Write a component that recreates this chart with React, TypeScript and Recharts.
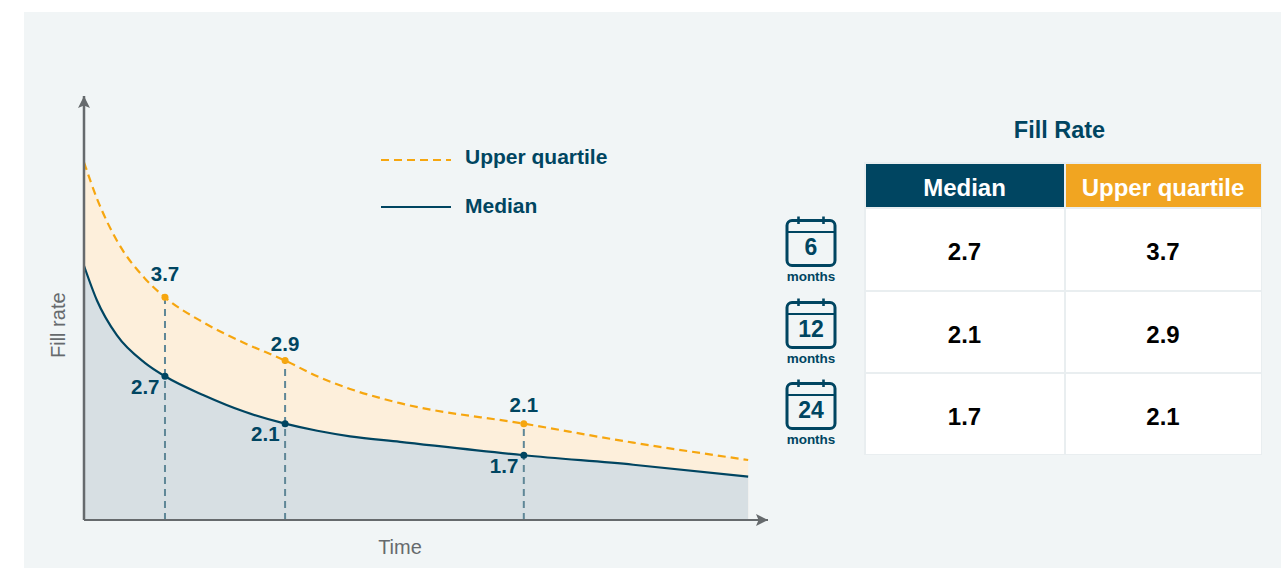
import {
  Area,
  AreaChart,
  Legend,
  ReferenceDot,
  ReferenceLine,
  XAxis,
  YAxis,
} from "recharts";

const NAVY = "#004561";
const AMBER = "#f6a60f";
const AXIS = "#666a6d";
const FONT = '"Liberation Sans", Arial, sans-serif';

// time runs 0-100 along the axis, the curves are schematic rather than in months
const time = [0, 1.9, 4.8, 8.9, 11.84, 17.5, 23.5, 29.4, 34.1, 38.9, 46.2, 64.3, 80.3, 97.1];
const upperQuartile = [5.41, 4.95, 4.42, 3.94, 3.7, 3.38, 3.12, 2.9, 2.7, 2.54, 2.36, 2.1, 1.86, 1.64];
const median = [4.1, 3.66, 3.22, 2.87, 2.7, 2.46, 2.25, 2.1, 2.01, 1.94, 1.87, 1.7, 1.58, 1.43];

const markedTimes = [11.84, 29.4, 64.3];
const markedUpper = [3.7, 2.9, 2.1];
const markedMedian = [2.7, 2.1, 1.7];
const periods = ["6", "12", "24"];

const Y_MIN = 0.88;
const Y_MAX = 6.25;

const chartData = time.map((t, i) => ({
  time: t,
  upper: upperQuartile[i],
  median: median[i],
}));

function CalendarIcon({ label }: { label: string }) {
  return (
    <svg width={52} height={52} viewBox="0 0 52 52" style={{ display: "block" }}>
      <rect x={2} y={4.5} width={48} height={45} rx={5} fill="none" stroke={NAVY} strokeWidth={3} />
      <line x1={2} x2={50} y1={16} y2={16} stroke={NAVY} strokeWidth={2} />
      <line x1={13.5} x2={13.5} y1={0.5} y2={8} stroke={NAVY} strokeWidth={2.6} />
      <line x1={38.5} x2={38.5} y1={0.5} y2={8} stroke={NAVY} strokeWidth={2.6} />
      <text x={26} y={38.5} textAnchor="middle" fontFamily={FONT} fontWeight={700} fontSize={23} fill={NAVY}>
        {label}
      </text>
    </svg>
  );
}

function renderLegend(props: any) {
  return (
    <div style={{ fontFamily: FONT }}>
      {props.payload.map((entry: any) => (
        <div key={entry.value} style={{ display: "flex", alignItems: "center", height: 49 }}>
          <svg
            width={84}
            height={4}
            style={{ display: "block", marginTop: entry.payload.strokeDasharray ? 6 : 2 }}
          >
            <line
              x1={0}
              x2={70}
              y1={2}
              y2={2}
              stroke={entry.color}
              strokeWidth={2.2}
              strokeDasharray={entry.payload.strokeDasharray}
            />
          </svg>
          <span style={{ fontSize: 21, fontWeight: 700, color: NAVY }}>{entry.value}</span>
        </div>
      ))}
    </div>
  );
}

function medianLabel(value: number) {
  return (p: any) => (
    <text
      x={p.viewBox.x - 2}
      y={p.viewBox.y + 21}
      textAnchor="end"
      fontFamily={FONT}
      fontWeight={700}
      fontSize={20.5}
      fill={NAVY}
    >
      {value}
    </text>
  );
}

// the gap above each upper dot differs so the text clears the dashed line
const upperLabelGaps = [13, 6, 8];

function upperLabel(value: number, gap: number) {
  return (p: any) => (
    <text
      x={p.viewBox.x + 3.5}
      y={p.viewBox.y - gap}
      textAnchor="middle"
      fontFamily={FONT}
      fontWeight={700}
      fontSize={20.5}
      fill={NAVY}
    >
      {value}
    </text>
  );
}

const headerCell = (background: string) => ({
  background,
  color: "#fff",
  fontSize: 24,
  fontWeight: 700,
  display: "flex",
  alignItems: "center",
  justifyContent: "center",
  paddingTop: 6,
  boxSizing: "border-box" as const,
});

const valueCell = {
  background: "#fff",
  color: "#000",
  fontSize: 24,
  fontWeight: 700,
  display: "flex",
  alignItems: "center",
  justifyContent: "center",
  paddingTop: 6,
  boxSizing: "border-box" as const,
};

export default function App() {
  return (
    <div style={{ position: "absolute", left: 0, top: 0, width: 1281, height: 568, background: "#fff", overflow: "hidden" }}>
      <div style={{ position: "absolute", left: 24, top: 12, width: 1257, height: 556, background: "#f1f5f6" }} />

      <div style={{ position: "absolute", left: 0, top: 0 }}>
        <AreaChart
          width={800}
          height={568}
          data={chartData}
          margin={{ top: 96, right: 32, bottom: 0, left: 0 }}
        >
          <defs>
            <marker
              id="axisArrow"
              viewBox="0 0 12 12"
              refX={12}
              refY={6}
              markerWidth={12}
              markerHeight={12}
              markerUnits="userSpaceOnUse"
              orient="auto-start-reverse"
            >
              <path d="M0 0 L12 6 L0 12 L2.5 6 Z" fill={AXIS} />
            </marker>
          </defs>
          <XAxis
            dataKey="time"
            type="number"
            domain={[0, 100]}
            height={48}
            tick={false}
            tickLine={false}
            axisLine={{ stroke: AXIS, strokeWidth: 2, markerEnd: "url(#axisArrow)" }}
            label={{
              value: "Time",
              position: "insideBottom",
              offset: 14,
              dx: -26,
              fill: AXIS,
              fontSize: 20,
              fontFamily: FONT,
            }}
          />
          <YAxis
            type="number"
            domain={[Y_MIN, Y_MAX]}
            width={84}
            tick={false}
            tickLine={false}
            axisLine={{ stroke: AXIS, strokeWidth: 2.5, markerStart: "url(#axisArrow)" }}
            label={{
              value: "Fill rate",
              angle: -90,
              position: "insideLeft",
              offset: 58,
              dy: 50,
              fill: AXIS,
              fontSize: 20,
              fontFamily: FONT,
            }}
          />
          <Legend
            content={renderLegend}
            itemSorter={null}
            layout="vertical"
            align="center"
            verticalAlign="middle"
            wrapperStyle={{ left: 381, top: 132, width: 260 }}
          />
          <Area
            type="monotone"
            dataKey="upper"
            name="Upper quartile"
            stroke={AMBER}
            strokeWidth={2.2}
            strokeDasharray="8 5"
            fill="#fdefdb"
            fillOpacity={1}
            isAnimationActive={false}
          />
          <Area
            type="monotone"
            dataKey="median"
            name="Median"
            stroke={NAVY}
            strokeWidth={2.2}
            fill="#d7dfe3"
            fillOpacity={1}
            isAnimationActive={false}
          />
          {markedTimes.map((t, i) => (
            <ReferenceLine
              key={t}
              segment={[
                { x: t, y: Y_MIN },
                { x: t, y: markedUpper[i] },
              ]}
              stroke="#5f8797"
              strokeWidth={2}
              strokeDasharray="7 5"
            />
          ))}
          {markedTimes.map((t, i) => (
            <ReferenceDot
              key={`upper-${t}`}
              x={t}
              y={markedUpper[i]}
              r={3.5}
              fill={AMBER}
              stroke="none"
              label={{ content: upperLabel(markedUpper[i], upperLabelGaps[i]) }}
            />
          ))}
          {markedTimes.map((t, i) => (
            <ReferenceDot
              key={`median-${t}`}
              x={t}
              y={markedMedian[i]}
              r={3.5}
              fill={NAVY}
              stroke="none"
              label={{ content: medianLabel(markedMedian[i]) }}
            />
          ))}
        </AreaChart>
      </div>

      <div
        style={{
          position: "absolute",
          left: 861,
          top: 116,
          width: 397,
          textAlign: "center",
          fontFamily: FONT,
          fontSize: 23.5,
          fontWeight: 700,
          lineHeight: "28px",
          color: NAVY,
        }}
      >
        Fill Rate
      </div>

      {periods.map((p, i) => (
        <div key={p} style={{ position: "absolute", left: 785, top: 216 + i * 81.5, width: 52, fontFamily: FONT }}>
          <CalendarIcon label={p} />
          <div style={{ textAlign: "center", fontSize: 13.5, fontWeight: 700, color: NAVY, lineHeight: "16px", marginTop: 1 }}>
            months
          </div>
        </div>
      ))}

      <div
        style={{
          position: "absolute",
          left: 864,
          top: 162,
          display: "grid",
          gridTemplateColumns: "198px 195px",
          gridTemplateRows: "43px 81px 80px 80px",
          gap: 2,
          padding: 1.5,
          background: "#e9eef0",
          fontFamily: FONT,
        }}
      >
        <div style={headerCell(NAVY)}>Median</div>
        <div style={headerCell("#f1a521")}>Upper quartile</div>
        {markedMedian.map((m, i) => [
          <div key={`m${i}`} style={valueCell}>{m}</div>,
          <div key={`u${i}`} style={valueCell}>{markedUpper[i]}</div>,
        ])}
      </div>
    </div>
  );
}
